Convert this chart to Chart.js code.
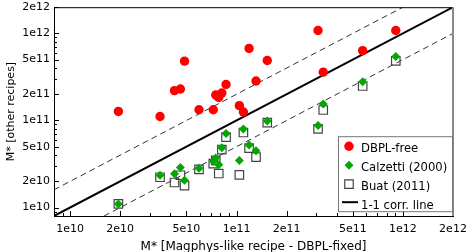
<!DOCTYPE html>
<html><head><meta charset="utf-8">
<script src="https://cdn.jsdelivr.net/npm/chart.js@4.4.1/dist/chart.umd.min.js"></script>
<style>html,body{margin:0;padding:0;background:#fff}</style>
</head><body>
<canvas id="c" width="469" height="252"></canvas>
<script>
// ---- data (stellar masses, Msun) ----
const xMass = [1.95e10,3.47e10,4.24e10,4.60e10,4.87e10,5.95e10,7.25e10,7.50e10,7.82e10,8.16e10,8.65e10,1.04e11,1.10e11,1.19e11,1.31e11,1.53e11,3.09e11,3.32e11,5.73e11,9.06e11];
const dbplFree = [1.27e11,1.11e11,2.20e11,2.30e11,4.80e11,1.33e11,1.33e11,1.96e11,1.84e11,2.07e11,2.59e11,1.48e11,1.25e11,6.72e11,2.84e11,4.88e11,1.08e12,3.59e11,6.34e11,1.08e12];
const calzetti = [1.10e10,2.35e10,2.45e10,2.88e10,2.06e10,2.83e10,3.40e10,3.70e10,3.10e10,4.87e10,7.09e10,3.46e10,7.98e10,5.24e10,4.48e10,9.86e10,8.75e10,1.55e11,2.78e11,5.42e11];
const buat = [1.10e10,2.23e10,1.94e10,2.35e10,1.79e10,2.75e10,3.20e10,3.49e10,2.46e10,4.62e10,6.44e10,2.37e10,7.28e10,4.81e10,3.79e10,9.47e10,8.03e10,1.32e11,2.49e11,4.84e11];
const seriesNames = ['DBPL-free','Calzetti (2000)','Buat (2011)','1-1 corr. line'];
const axisMin = 8e9, axisMax = 2e12;
const majorTicks = [1e10,2e10,5e10,1e11,2e11,5e11,1e12,2e12];
const tickLabels = ['1e10','2e10','5e10','1e11','2e11','5e11','1e12','2e12'];
const oneToOne = [axisMin, axisMax];            // y = x
const upperLineX = [axisMin, axisMax/2];        // y = 2x
const lowerLineX = [axisMin*2, axisMax];        // y = x/2
const xTitle = 'M* [Magphys-like recipe - DBPL-fixed]';
const yTitle = 'M* [other recipes]';

const FONT = 'DejaVu Sans';
function pts(xs, ys){ return xs.map((x,i)=>({x:x,y:ys[i]})); }
function allTicks(){
  const out=[];
  for(let e=9;e<=12;e++) for(let m=1;m<=9;m++){ const v=m*Math.pow(10,e); if(v>=axisMin*0.999 && v<=axisMax*1.001) out.push({value:v}); }
  return out;
}
function isMajor(v){ return majorTicks.findIndex(m=>Math.abs(m-v)/m<1e-6); }
function lbl(v){ const i=isMajor(v); return i>=0 ? tickLabels[i] : ''; }
function noPad(s){ s.paddingLeft=0; s.paddingRight=0; s.paddingTop=0; s.paddingBottom=0; }

const frame = {
  id:'frame',
  afterDatasetsDraw(chart){
    const ctx=chart.ctx, a=chart.chartArea, xs=chart.scales.x, ys=chart.scales.y;
    ctx.save();
    ctx.strokeStyle='#000'; ctx.lineWidth=1;
    xs.ticks.forEach(t=>{ const p=Math.round(xs.getPixelForValue(t.value))+0.5; const L=isMajor(t.value)>=0?5:3;
      ctx.beginPath(); ctx.moveTo(p,a.bottom); ctx.lineTo(p,a.bottom-L); ctx.stroke(); });
    ys.ticks.forEach(t=>{ const p=Math.round(ys.getPixelForValue(t.value))+0.5; const L=isMajor(t.value)>=0?5:3;
      ctx.beginPath(); ctx.moveTo(a.left,p); ctx.lineTo(a.left+L,p); ctx.stroke(); });
    ctx.beginPath(); ctx.moveTo(a.left,a.top+0.5); ctx.lineTo(a.right,a.top+0.5); ctx.stroke();
    ctx.strokeStyle='#888'; ctx.lineWidth=2;
    ctx.beginPath(); ctx.moveTo(a.right,a.top); ctx.lineTo(a.right,a.bottom); ctx.stroke();
    // legend
    const bx=a.right-115, by=a.top+129, bw=115, bh=75;
    ctx.fillStyle='#fff'; ctx.fillRect(bx,by,bw,bh);
    ctx.strokeStyle='#777'; ctx.lineWidth=1; ctx.strokeRect(bx+0.5,by+0.5,bw-1,bh);
    const ds=chart.data.datasets;
    const rows=[by+13,by+32,by+51,by+70];
    ctx.font='11.6px "'+FONT+'"'; ctx.textBaseline='middle'; ctx.textAlign='left';
    for(let i=0;i<3;i++){
      const d=ds[i];
      ctx.fillStyle=d.backgroundColor; ctx.strokeStyle=d.borderColor; ctx.lineWidth=d.borderWidth;
      Chart.helpers.drawPoint(ctx,{pointStyle:d.pointStyle,radius:d.pointRadius,borderWidth:d.borderWidth,rotation:0},bx+11,rows[i]-3);
      ctx.fillStyle='#000'; ctx.fillText(seriesNames[i],bx+23,rows[i]);
    }
    ctx.strokeStyle='#000'; ctx.lineWidth=2;
    ctx.beginPath(); ctx.moveTo(bx+4,rows[3]-4); ctx.lineTo(bx+20,rows[3]-4); ctx.stroke();
    ctx.fillStyle='#000'; ctx.fillText(seriesNames[3],bx+23,rows[3]);
    ctx.restore();
  }
};

new Chart(document.getElementById('c'),{
  type:'scatter',
  data:{datasets:[
    {label:seriesNames[0],data:pts(xMass,dbplFree),pointStyle:'circle',pointRadius:4.7,backgroundColor:'#ff0000',borderColor:'#ff0000',borderWidth:0},
    {label:seriesNames[1],data:pts(xMass,calzetti),pointStyle:'rectRot',pointRadius:4.5,backgroundColor:'#00a800',borderColor:'#00a800',borderWidth:0},
    {label:seriesNames[2],data:pts(xMass,buat),pointStyle:'rect',pointRadius:6,backgroundColor:'rgba(0,0,0,0)',borderColor:'#444',borderWidth:1.2},
    {label:seriesNames[3],data:pts(oneToOne,oneToOne),showLine:true,pointRadius:0,borderColor:'#000',borderWidth:2},
    {label:'2x',data:pts(upperLineX,upperLineX.map(v=>v*2)),showLine:true,pointRadius:0,borderColor:'#333',borderWidth:1,borderDash:[6,4]},
    {label:'x/2',data:pts(lowerLineX,lowerLineX.map(v=>v/2)),showLine:true,pointRadius:0,borderColor:'#333',borderWidth:1,borderDash:[6,4]}
  ]},
  options:{
    responsive:false, animation:false, devicePixelRatio:1,
    layout:{padding:{top:6,right:16,left:0,bottom:0}},
    plugins:{legend:{display:false},tooltip:{enabled:false}},
    scales:{
      x:{type:'logarithmic',min:axisMin,max:axisMax,
        grid:{display:false,drawTicks:false},
        border:{display:true,color:'#000',width:1},
        afterBuildTicks:s=>{s.ticks=allTicks();},
        afterFit:s=>{s.height=36; noPad(s);},
        ticks:{autoSkip:false,maxRotation:0,padding:7,color:'#000',font:{family:FONT,size:11},callback:v=>lbl(v)},
        title:{display:true,text:xTitle,color:'#000',font:{family:FONT,size:12},padding:{top:0,bottom:-2}}},
      y:{type:'logarithmic',min:axisMin,max:axisMax,
        grid:{display:false,drawTicks:false},
        border:{display:true,color:'#000',width:1},
        afterBuildTicks:s=>{s.ticks=allTicks();},
        afterFit:s=>{s.width=54; noPad(s);},
        ticks:{autoSkip:false,padding:4,color:'#000',font:{family:FONT,size:11},callback:v=>lbl(v)},
        title:{display:true,text:yTitle,color:'#000',font:{family:FONT,size:11},padding:{top:5,bottom:0}}}
    }
  },
  plugins:[frame]
});
</script>
</body></html>
